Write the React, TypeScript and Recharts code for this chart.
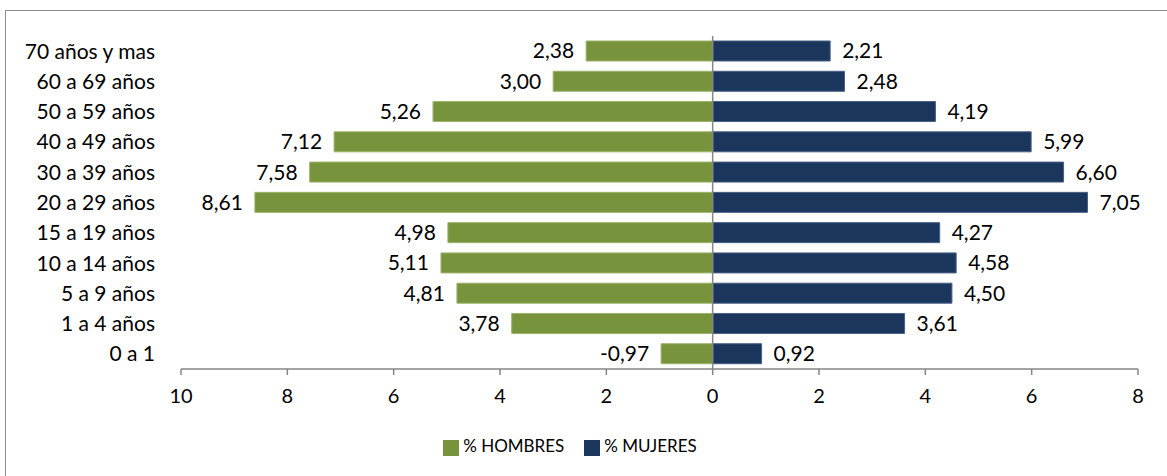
import React from 'react';
import { BarChart, Bar, XAxis, YAxis, Legend, ReferenceLine, LabelList } from 'recharts';

// Grupos de edad, de arriba hacia abajo
const grupos = [
  '70 años y mas',
  '60 a 69 años',
  '50 a 59 años',
  '40 a 49 años',
  '30 a 39 años',
  '20 a 29 años',
  '15 a 19 años',
  '10 a 14 años',
  '5 a 9 años',
  '1 a 4 años',
  '0 a 1',
];

// valores tal como se rotulan en el gráfico
const hombres = [2.38, 3.0, 5.26, 7.12, 7.58, 8.61, 4.98, 5.11, 4.81, 3.78, -0.97];
const mujeres = [2.21, 2.48, 4.19, 5.99, 6.6, 7.05, 4.27, 4.58, 4.5, 3.61, 0.92];

const xTicks = [-10, -8, -6, -4, -2, 0, 2, 4, 6, 8];

const data = grupos.map((g, i) => ({
  grupo: g,
  hombres: -Math.abs(hombres[i]),
  hombresLabel: hombres[i],
  mujeres: mujeres[i],
}));

const FONT = 'Lato, "Open Sans", sans-serif';
const fmt = (v: any) => Number(v).toFixed(2).replace('.', ',');

const App: React.FC = () => {
  return (
    <div style={{ position: 'absolute', left: 0, top: 0, width: 1167, height: 476, background: '#fff', fontFamily: FONT }}>
      <div
        style={{
          position: 'absolute',
          left: 5,
          top: 10,
          width: 1170,
          height: 480,
          border: '1.5px solid #8c8c8c',
          boxSizing: 'border-box',
        }}
      />
      <BarChart
        width={1167}
        height={476}
        data={data}
        layout="vertical"
        stackOffset="sign"
        barCategoryGap={5}
        margin={{ top: 36, right: 29, left: 6, bottom: 26 }}
        style={{ position: 'absolute', left: 0, top: 0 }}
      >
        <XAxis
          type="number"
          domain={[-10, 8]}
          ticks={xTicks}
          allowDataOverflow
          tickFormatter={(v) => `${Math.abs(v)}`}
          tick={{ fill: '#000', fontSize: 20, fontFamily: FONT }}
          axisLine={{ stroke: '#868686', strokeWidth: 1.5 }}
          tickLine={{ stroke: '#868686', strokeWidth: 1.5 }}
          tickSize={6}
          tickMargin={14}
          height={60}
        />
        <YAxis
          type="category"
          dataKey="grupo"
          width={175}
          axisLine={false}
          tickLine={false}
          tickMargin={20}
          interval={0}
          tick={{ fill: '#000', fontSize: 21, fontFamily: FONT }}
        />
        <ReferenceLine x={0} stroke="#868686" strokeWidth={1.5} />
        <Legend
          verticalAlign="bottom"
          iconType="square"
          iconSize={16}
          wrapperStyle={{ top: 435, left: 9, fontSize: 17, fontFamily: FONT }}
          formatter={(value) => (
            <span style={{ color: '#000', marginRight: value === '% HOMBRES' ? 10 : 0 }}>{value}</span>
          )}
        />
        <Bar
          dataKey="hombres"
          name="% HOMBRES"
          stackId="p"
          fill="#77933C"
          stroke="#9bb36a"
          strokeWidth={1}
          isAnimationActive={false}
        >
          <LabelList
            dataKey="hombresLabel"
            position="right"
            offset={12}
            formatter={fmt}
            style={{ fill: '#000', fontSize: 21, fontFamily: FONT }}
          />
        </Bar>
        <Bar
          dataKey="mujeres"
          name="% MUJERES"
          stackId="p"
          fill="#1B365D"
          stroke="#4a6185"
          strokeWidth={1}
          isAnimationActive={false}
        >
          <LabelList
            dataKey="mujeres"
            position="right"
            offset={12}
            formatter={fmt}
            style={{ fill: '#000', fontSize: 21, fontFamily: FONT }}
          />
        </Bar>
      </BarChart>
    </div>
  );
};

export default App;
